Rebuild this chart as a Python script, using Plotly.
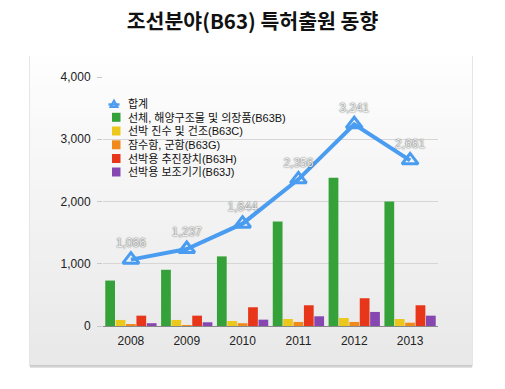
import plotly.graph_objects as go

years = ["2008", "2009", "2010", "2011", "2012", "2013"]
total = [1066, 1237, 1644, 2356, 3241, 2661]
b63b = [730, 903, 1118, 1677, 2382, 2000]
b63c = [97, 97, 80, 113, 129, 113]
b63g = [30, 15, 45, 65, 65, 53]
b63h = [166, 166, 301, 333, 446, 333]
b63j = [45, 60, 102, 156, 226, 166]

total_name = "합계"
series_names = ["선체, 해양구조물 및 의장품(B63B)", "선박 진수 및 건조(B63C)", "잠수함, 군함(B63G)",
                "선박용 추진장치(B63H)", "선박용 보조기기(B63J)"]
series_vals = [b63b, b63c, b63g, b63h, b63j]
series_colors = ["#35a139", "#ecc81c", "#f08a1c", "#e8361a", "#8648b0"]
line_color = "#4a9cf0"
total_label = [f"{v:,}" for v in total]

FONT = "Liberation Sans, Noto Sans CJK KR, sans-serif"

fig = go.Figure()
for n, v, c in zip(series_names, series_vals, series_colors):
    fig.add_trace(go.Bar(x=years, y=v, name=n, marker=dict(color=c, line=dict(width=0))))
fig.add_trace(go.Scatter(x=years, y=total, name=total_name, mode="lines+markers+text",
                         line=dict(color=line_color, width=4),
                         marker=dict(symbol="triangle-up-open", size=14, color=line_color,
                                     line=dict(width=3, color=line_color)),
                         text=total_label, textposition="top center",
                         textfont=dict(family=FONT, size=12, color="#eeeeee",
                                       shadow="0px 0px 1.5px #222"),
                         cliponaxis=False))

# layout geometry in pixels
L, R, T, B = 103, 438, 77, 326
W, H = R - L, B - T
def px(x):
    return (x - L) / W
def py(y):
    return (B - y) / H

shapes = []
# panel shadow
shapes.append(dict(type="rect", xref="paper", yref="paper", x0=px(30), x1=px(472), y0=py(368), y1=py(58),
                   fillcolor="rgba(0,0,0,0.12)", line=dict(width=0), layer="below"))
shapes.append(dict(type="rect", xref="paper", yref="paper", x0=px(29), x1=px(473), y0=py(366.5), y1=py(56),
                   fillcolor="rgba(0,0,0,0.10)", line=dict(width=0), layer="below"))
# panel gradient
nb = 30
top, bot = 55, 365
for k in range(nb):
    y0 = top + (bot - top) * k / nb
    y1 = top + (bot - top) * (k + 1) / nb
    g = int(254 - (254 - 233) * k / (nb - 1))
    shapes.append(dict(type="rect", xref="paper", yref="paper", x0=px(30), x1=px(472),
                       y0=py(min(y1 + 0.6, bot)), y1=py(y0), fillcolor=f"rgb({g},{g},{g})",
                       line=dict(width=0), layer="below"))

# manual legend (compact spacing like the reference)
annotations = []
leg_y = [103.5, 117.3, 131, 144.8, 158.5, 172]
leg_names = [total_name] + series_names
for i, name in enumerate(leg_names):
    yc = leg_y[i]
    annotations.append(dict(text=name, xref="paper", yref="paper", x=px(126), y=py(yc),
                            xanchor="left", yanchor="middle", showarrow=False,
                            font=dict(family=FONT, size=11, color="#111")))
    if i == 0:
        shapes.append(dict(type="line", xref="paper", yref="paper", x0=px(108.5), x1=px(119.5),
                           y0=py(yc + 1), y1=py(yc + 1), line=dict(color=line_color, width=2.5)))
        shapes.append(dict(type="path", xref="paper", yref="paper",
                           path=f"M {px(110.5)} {py(yc + 3.5)} L {px(114)} {py(yc - 3)} L {px(117.5)} {py(yc + 3.5)} Z",
                           line=dict(color=line_color, width=2), fillcolor="rgba(0,0,0,0)"))
    else:
        c = series_colors[i - 1]
        shapes.append(dict(type="rect", xref="paper", yref="paper", x0=px(112), x1=px(120.5),
                           y0=py(yc + 4.5), y1=py(yc - 4.5), fillcolor=c, line=dict(width=0)))

fig.update_layout(
    width=505, height=389,
    margin=dict(l=L, r=505 - R, t=T, b=389 - B),
    paper_bgcolor="white", plot_bgcolor="rgba(0,0,0,0)",
    barmode="group", bargap=0.07, bargroupgap=0.06,
    title=dict(text="<b>조선분야(B63) 특허출원 동향</b>", x=0.5, xanchor="center", xref="container",
               y=1 - 22 / 389, yanchor="middle",
               font=dict(family="Noto Sans CJK KR, sans-serif", size=20.5, color="#111")),
    font=dict(family=FONT, size=12, color="#222"),
    shapes=shapes,
    annotations=annotations,
    showlegend=False,
    xaxis=dict(showgrid=False, showline=True, linecolor="#888", linewidth=1, ticks="",
               tickfont=dict(size=12, color="#222"), range=[-0.5, 5.5], ticklabelstandoff=4),
    yaxis=dict(range=[0, 4000], dtick=1000, tickformat=",", showgrid=True, gridcolor="#d6d6d6",
               gridwidth=1, zeroline=False, ticks="outside", ticklen=5, tickcolor="#c8c8c8",
               tickfont=dict(size=12, color="#222"), ticklabelstandoff=4),
)

fig.write_html("out.html", config={"displayModeBar": False},
               post_script="document.body.style.margin='0';document.body.style.overflow='hidden';")
